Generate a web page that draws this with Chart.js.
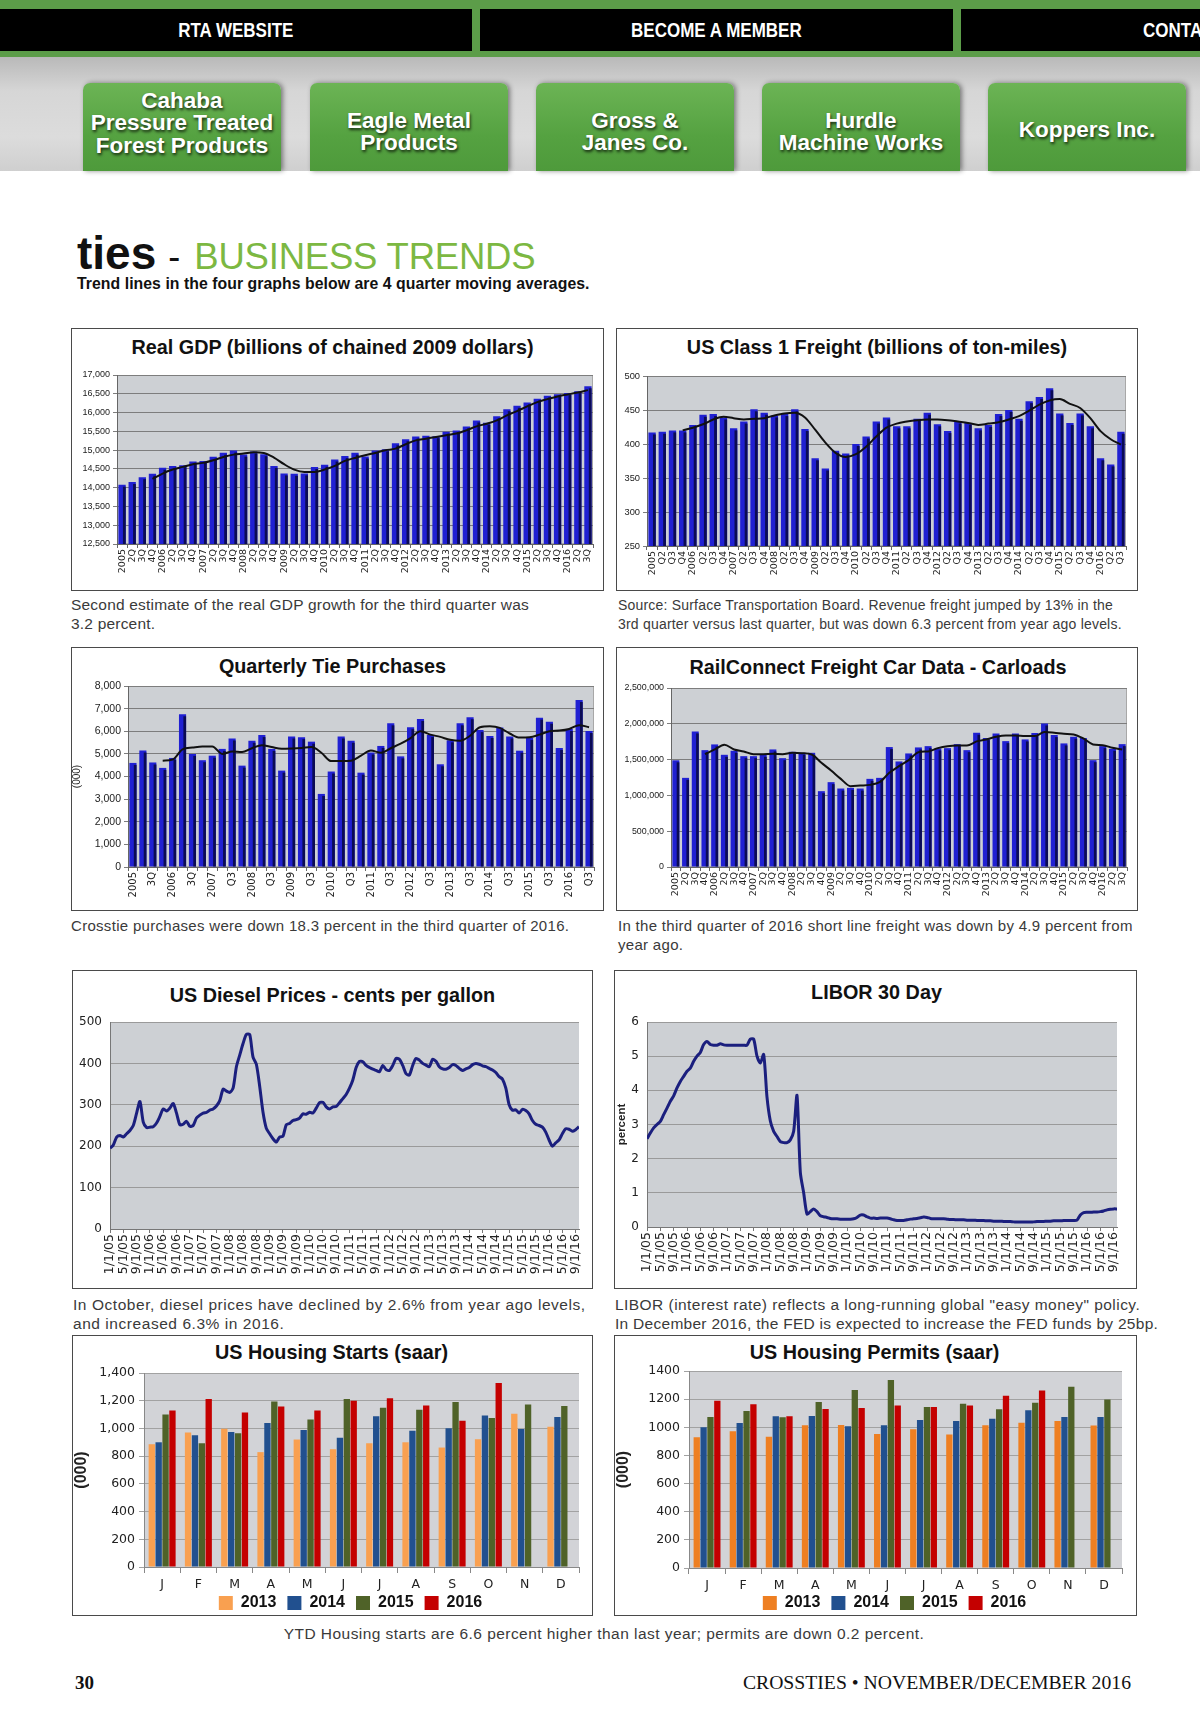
<!DOCTYPE html>
<html>
<head>
<meta charset="utf-8">
<title>ties - Business Trends</title>
<script src="https://cdn.jsdelivr.net/npm/chart.js@4.4.1/dist/chart.umd.min.js"></script>
<style>
  body { margin:0; width:1200px; height:1729px; overflow:hidden; position:relative; background:#fff; font-family:"Liberation Sans", Arial, sans-serif; color:#222; }
  .abs { position:absolute; }
  #greenbar { left:0; top:0; width:1200px; height:57px; background:#5c9d49; }
  .nav { top:9px; height:42px; background:#000; color:#fff; font-weight:bold; font-size:20px; line-height:42px; text-align:center; overflow:hidden; white-space:nowrap; }
  .nav span { display:inline-block; transform:scaleX(.85); }
  #band { left:0; top:57px; width:1200px; height:114px; background:linear-gradient(#b9b9b9, #d6d6d6 30%, #dcdcdc 70%, #cfcfcf); }
  .btn { top:83px; width:198px; height:88px; border-radius:7px 7px 0 0; background:linear-gradient(#6cb455, #55a241 60%, #4e9a3b); box-shadow:2px 0 5px rgba(0,0,0,.45); color:#fff; font-weight:bold; font-size:22.5px; line-height:22.5px; text-align:center; text-shadow:1px 2px 3px rgba(0,0,0,.75); display:flex; align-items:center; justify-content:center; box-sizing:border-box; }
  .box { border:1.5px solid #4a4a4a; box-sizing:border-box; }
  .ctitle { font-weight:bold; font-size:19.8px; line-height:22px; text-align:center; color:#111; white-space:nowrap; }
  .cap { font-size:15.5px; line-height:18.5px; color:#3a3a3a; white-space:nowrap; }
  canvas { position:absolute; }
</style>
</head>
<body>

<div id="greenbar" class="abs"></div>
<div class="abs nav" style="left:0;width:472px"><span>RTA WEBSITE</span></div>
<div class="abs nav" style="left:480px;width:473px"><span>BECOME A MEMBER</span></div>
<div class="abs nav" style="left:961px;width:239px;text-align:left"><span style="margin-left:182px;transform-origin:left">CONTACT US</span></div>
<div id="band" class="abs"></div>
<div class="abs btn" style="left:83px;padding-bottom:7px">Cahaba<br>Pressure Treated<br>Forest Products</div>
<div class="abs btn" style="left:310px;padding-top:10px">Eagle Metal<br>Products</div>
<div class="abs btn" style="left:536px;padding-top:10px">Gross &amp;<br>Janes Co.</div>
<div class="abs btn" style="left:762px;padding-top:10px">Hurdle<br>Machine Works</div>
<div class="abs btn" style="left:988px;padding-top:6px">Koppers Inc.</div>

<div class="abs" style="left:77px;top:228px;white-space:nowrap;line-height:50px">
  <span style="font-size:46px;font-weight:bold;color:#111">ties</span><span style="font-size:36px;color:#111;margin-left:12px">-</span><span style="font-size:36.5px;color:#7cb842;margin-left:14px;letter-spacing:-0.2px">BUSINESS TRENDS</span>
</div>
<div class="abs" style="left:77px;top:275px;font-size:15.8px;font-weight:bold;color:#111;white-space:nowrap;letter-spacing:0.05px">Trend lines in the four graphs below are 4 quarter moving averages.</div>

<div class="abs box" style="left:71px;top:328px;width:533px;height:263px"></div>
<div class="abs box" style="left:616px;top:328px;width:522px;height:263px"></div>
<div class="abs box" style="left:71px;top:647px;width:533px;height:264px"></div>
<div class="abs box" style="left:616px;top:647px;width:522px;height:264px"></div>
<div class="abs box" style="left:72px;top:970px;width:521px;height:319px"></div>
<div class="abs box" style="left:614px;top:970px;width:523px;height:319px"></div>
<div class="abs box" style="left:72px;top:1335px;width:521px;height:281px"></div>
<div class="abs box" style="left:614px;top:1335px;width:523px;height:281px"></div>

<div class="abs ctitle" style="left:71px;width:523px;top:336px">Real GDP (billions of chained 2009 dollars)</div>
<div class="abs ctitle" style="left:616px;width:522px;top:336px">US Class 1 Freight (billions of ton-miles)</div>
<div class="abs ctitle" style="left:71px;width:523px;top:655px">Quarterly Tie Purchases</div>
<div class="abs ctitle" style="left:616px;width:524px;top:656px">RailConnect Freight Car Data - Carloads</div>
<div class="abs ctitle" style="left:72px;width:521px;top:984px">US Diesel Prices - cents per gallon</div>
<div class="abs ctitle" style="left:614px;width:525px;top:981px">LIBOR 30 Day</div>
<div class="abs ctitle" style="left:72px;width:519px;top:1341px">US Housing Starts (saar)</div>
<div class="abs ctitle" style="left:614px;width:521px;top:1341px">US Housing Permits (saar)</div>

<div class="abs cap" style="left:71px;top:596px;letter-spacing:0.2px">Second estimate of the real GDP growth for the third quarter was<br>3.2 percent.</div>
<div class="abs cap" style="left:618px;top:596px;font-size:14px;letter-spacing:0.2px">Source: Surface Transportation Board. Revenue freight jumped by 13% in the<br>3rd quarter versus last quarter, but was down 6.3 percent from year ago levels.</div>
<div class="abs cap" style="left:71px;top:917px;font-size:15px;letter-spacing:0.3px">Crosstie purchases were down 18.3 percent in the third quarter of 2016.</div>
<div class="abs cap" style="left:618px;top:917px;font-size:15px;letter-spacing:0.3px">In the third quarter of 2016 short line freight was down by 4.9 percent from<br>year ago.</div>
<div class="abs cap" style="left:73px;top:1296px;letter-spacing:0.55px">In October, diesel prices have declined by 2.6% from year ago levels,<br>and increased 6.3% in 2016.</div>
<div class="abs cap" style="left:615px;top:1296px"><span style="letter-spacing:0.45px">LIBOR (interest rate) reflects a long-running global "easy money" policy.</span><br><span style="letter-spacing:0.28px">In December 2016, the FED is expected to increase the FED funds by 25bp.</span></div>
<div class="abs cap" style="left:0;width:1208px;text-align:center;top:1625px;letter-spacing:0.45px">YTD Housing starts are 6.6 percent higher than last year; permits are down 0.2 percent.</div>

<div class="abs" style="left:75px;top:1672px;font-family:'Liberation Serif',serif;font-weight:bold;font-size:19px;color:#111">30</div>
<div class="abs" style="right:69px;top:1671px;font-family:'Liberation Serif',serif;font-size:19.7px;color:#111;white-space:nowrap">CROSSTIES &bull; NOVEMBER/DECEMBER 2016</div>

<canvas id="gdp"></canvas>
<canvas id="freight"></canvas>
<canvas id="ties"></canvas>
<canvas id="carloads"></canvas>
<canvas id="diesel"></canvas>
<canvas id="libor"></canvas>
<canvas id="starts"></canvas>
<canvas id="permits"></canvas>

<script>
// --- Data ---
const quarterLabels = ['2005','2Q','3Q','4Q','2006','2Q','3Q','4Q','2007','2Q','3Q','4Q','2008','2Q','3Q','4Q',
  '2009','2Q','3Q','4Q','2010','2Q','3Q','4Q','2011','2Q','3Q','4Q','2012','2Q','3Q','4Q',
  '2013','2Q','3Q','4Q','2014','2Q','3Q','4Q','2015','2Q','3Q','4Q','2016','2Q','3Q'];
const freightLabels = ['2005','Q2','Q3','Q4','2006','Q2','Q3','Q4','2007','Q2','Q3','Q4','2008','Q2','Q3','Q4',
  '2009','Q2','Q3','Q4','2010','Q2','Q3','Q4','2011','Q2','Q3','Q4','2012','Q2','Q3','Q4',
  '2013','Q2','Q3','Q4','2014','Q2','Q3','Q4','2015','Q2','Q3','Q4','2016','Q2','Q3'];
const tieLabels = ['2005','','3Q','','2006','','3Q','','2007','','Q3','','2008','','Q3','',
  '2009','','Q3','','2010','','Q3','','2011','','Q3','','2012','','Q3','',
  '2013','','Q3','','2014','','Q3','','2015','','Q3','','2016','','Q3'];

const gdpValues = [14080,14150,14280,14370, 14530,14580,14600,14700, 14710,14820,14930,14990,
  14880,14960,14890,14580, 14380,14370,14380,14550, 14610,14750,14840,14930,
  14830,14990,15020,15180, 15290,15360,15380,15370, 15490,15520,15630,15790,
  15730,15900,16090,16180, 16270,16370,16450,16490, 16520,16570,16700];
const gdpTrend = [null,null,null,14234, 14376,14482,14553,14624, 14660,14730,14818,14880,
  14907,14942,14925,14800, 14624,14482,14420,14420, 14482,14580,14712,14792,
  14863,14925,14996,15040, 15155,15260,15305,15350, 15394,15440,15527,15633,
  15703,15792,15925,16040, 16163,16278,16358,16430, 16482,16535,16597];

const freightValues = [417,418,420,420, 428,443,444,439, 423,433,451,446, 442,444,451,422,
  379,364,390,386, 400,411,433,439, 426,426,437,446, 429,419,433,431,
  423,428,444,450, 437,463,469,482, 445,431,445,426, 379,370,418];
const freightTrend = [null,null,null,420, 424,429,436,440, 438,436,437,438, 442,445,446,439,
  421,402,387,381, 385,396,411,424, 430,433,435,436, 436,435,433,431,
  428,430,432,436, 441,449,458,464, 466,459,453,438, 419,407,399];

const tieValues = [4600,5150,4620,4380, 4820,6750,5000,4720, 4920,5220,5680,4480, 5580,5830,5220,4260,
  5770,5740,5540,3230, 4220,5770,5580,4170, 5060,5350,6350,4890, 6180,6540,5830,4540,
  5600,6350,6620,6050, 5790,6170,5770,5140, 5700,6600,6420,5260, 6100,7380,6010];
const tieTrend = [null,null,null,4700, 4750,5200,5280,5330, 5330,5000,5100,5080, 5250,5380,5300,5230,
  5240,5260,5300,5050, 4680,4680,4700,4920, 5150,5050,5250,5450, 5700,6000,5850,5750,
  5620,5580,5800,6180, 6220,6150,5900,5720, 5730,5850,6000,6030, 6100,6270,6180];

const carloadValues = [1490000,1245000,1894000,1632000, 1712000,1567000,1623000,1548000,
  1548000,1567000,1642000,1520000, 1609000,1595000,1595000,1059000,
  1185000,1096000,1105000,1096000, 1231000,1245000,1675000,1474000,
  1586000,1670000,1688000,1656000, 1660000,1716000,1632000,1875000,
  1800000,1866000,1758000,1866000, 1782000,1870000,2005000,1842000,
  1726000,1819000,1800000,1492000, 1688000,1651000,1716000];
const carloadTrend = [null,null,null,1576000, 1642000,1707000,1642000,1614000,
  1576000,1576000,1580000,1576000, 1595000,1590000,1572000,1455000,
  1348000,1231000,1129000,1138000, 1147000,1185000,1315000,1409000,
  1492000,1604000,1614000,1660000, 1688000,1698000,1698000,1754000,
  1782000,1819000,1838000,1838000, 1828000,1828000,1884000,1875000,
  1861000,1852000,1796000,1712000, 1702000,1665000,1642000];

// monthly points, Jan 2005 .. Oct 2016; ticks every 4th month
const monthTicks = ['1/1/05','5/1/05','9/1/05','1/1/06','5/1/06','9/1/06','1/1/07','5/1/07','9/1/07',
  '1/1/08','5/1/08','9/1/08','1/1/09','5/1/09','9/1/09','1/1/10','5/1/10','9/1/10',
  '1/1/11','5/1/11','9/1/11','1/1/12','5/1/12','9/1/12','1/1/13','5/1/13','9/1/13',
  '1/1/14','5/1/14','9/1/14','1/1/15','5/1/15','9/1/15','1/1/16','5/1/16','9/1/16'];
const dieselCents = [195,203,222,226,222,230,238,250,280,308,258,245,
  246,247,256,272,290,285,292,303,280,252,253,260,
  248,250,268,275,280,282,287,290,297,310,338,333,
  330,340,392,420,448,470,470,415,398,345,282,243,
  230,218,210,222,224,252,255,262,264,268,278,277,
  282,280,292,305,306,295,290,295,296,305,315,325,
  340,360,390,405,404,395,390,386,383,380,395,385,
  383,395,412,410,395,375,372,395,412,408,400,396,
  392,410,405,392,387,386,390,397,395,388,383,387,
  390,397,400,398,394,392,388,384,378,368,362,340,
  300,287,288,280,289,286,278,262,253,250,246,234,
  215,200,208,215,230,242,241,236,240,247];
const liborPercent = [2.58,2.75,2.90,3.00,3.09,3.29,3.48,3.68,3.84,4.07,4.26,4.41,
  4.56,4.65,4.85,5.00,5.11,5.34,5.43,5.34,5.32,5.32,5.36,5.33,
  5.32,5.32,5.32,5.32,5.32,5.32,5.32,5.50,5.50,5.00,4.80,5.05,
  3.80,3.10,2.80,2.65,2.50,2.47,2.47,2.55,2.80,3.85,1.60,1.00,
  0.38,0.45,0.53,0.45,0.33,0.30,0.28,0.25,0.24,0.24,0.23,0.23,
  0.23,0.23,0.24,0.28,0.35,0.35,0.30,0.26,0.26,0.25,0.26,0.26,
  0.26,0.24,0.21,0.19,0.19,0.19,0.21,0.23,0.24,0.25,0.27,0.29,
  0.28,0.25,0.24,0.24,0.24,0.24,0.23,0.22,0.22,0.21,0.21,0.21,
  0.20,0.20,0.20,0.19,0.19,0.19,0.18,0.18,0.17,0.17,0.17,0.16,
  0.16,0.16,0.15,0.15,0.15,0.15,0.15,0.15,0.15,0.16,0.16,0.16,
  0.17,0.17,0.18,0.18,0.18,0.19,0.19,0.19,0.19,0.20,0.35,0.42,
  0.43,0.43,0.44,0.44,0.45,0.47,0.50,0.52,0.53,0.53];

const monthLetters = ['J','F','M','A','M','J','J','A','S','O','N','D'];
const housingYears = ['2013','2014','2015','2016'];
const starts2013 = [886,970,998,829,920,850,893,900,862,922,1106,1013];
const starts2014 = [900,951,975,1039,989,932,1087,984,1001,1094,996,1082];
const starts2015 = [1101,893,965,1194,1065,1213,1149,1135,1190,1075,1173,1161];
const starts2016 = [1130,1213,1115,1159,1130,1199,1218,1166,1056,1328,null,null];
const permits2013 = [929,972,932,1014,1017,953,986,948,1014,1033,1045,1012];
const permits2014 = [1000,1031,1078,1080,1007,1014,1052,1045,1061,1121,1073,1073];
const permits2015 = [1073,1116,1071,1180,1265,1336,1144,1168,1128,1175,1288,1198];
const permits2016 = [1189,1163,1078,1130,1137,1154,1144,1154,1225,1262,null,null];

// --- Look ---
const plotGray = '#cdd0d4';
const barBlue = '#2020d2';
const barSide = '#0b0b55';
const startsColors = ['#f9a050','#21508f','#4f6228','#c40000'];
const permitsColors = ['#ee7f22','#21508f','#4f6228','#c40000'];
const verdanaLike = '"DejaVu Sans", Verdana, sans-serif';

Chart.defaults.animation = false;
Chart.defaults.font.family = '"Liberation Sans", Arial, sans-serif';
Chart.defaults.color = '#222';
Chart.defaults.plugins.legend.display = false;
Chart.defaults.plugins.tooltip.enabled = false;

// gray plot area behind everything
const plotBg = {
  id: 'plotBg',
  beforeDraw(chart, args, opts) {
    const { ctx, chartArea: a } = chart;
    ctx.save();
    ctx.fillStyle = opts.color || plotGray;
    ctx.fillRect(a.left, a.top, a.width, a.height);
    if (opts.border) {
      ctx.strokeStyle = opts.border;
      ctx.lineWidth = 1;
      ctx.strokeRect(a.left + 0.5, a.top + 0.5, a.width - 1, a.height - 1);
    }
    ctx.restore();
  }
};

// dark right side on each bar, like the 3D columns of the original
const barShade = {
  id: 'barShade',
  afterDatasetDraw(chart, args, opts) {
    if (!opts.color || args.meta.type !== 'bar') return;
    const ctx = chart.ctx;
    const bottom = chart.chartArea.bottom;
    ctx.save();
    ctx.fillStyle = opts.color;
    args.meta.data.forEach(bar => {
      const { x, y, width, base } = bar.getProps(['x', 'y', 'width', 'base'], true);
      const w = width * 0.38;
      const b = Math.min(base, bottom);
      ctx.fillRect(x + width / 2 - w, y + 2, w, b - y - 2);
    });
    ctx.restore();
  }
};

// tick labels may hang past their axis box (the x axes here are kept short)
const noLabelClip = {
  id: 'noLabelClip',
  afterUpdate(chart) {
    Object.values(chart.scales).forEach(s => { s._computeLabelArea = () => undefined; });
  }
};

// nudge the bottom legend sideways
const legendShift = {
  id: 'legendShift',
  afterLayout(chart, args, opts) {
    if (!opts.dx || !chart.legend) return;
    chart.legend.left += opts.dx;
    chart.legend.right += opts.dx;
  }
};
Chart.register(plotBg, barShade, noLabelClip, legendShift);

function place(id, r) {
  const c = document.getElementById(id);
  c.width = r.w; c.height = r.h;
  c.style.left = r.x + 'px'; c.style.top = r.y + 'px';
  return c;
}

function fit(r, p, legendH = 0) {
  return { top: p.t - r.y, yW: p.l - r.x, right: r.x + r.w - p.r, xH: r.y + r.h - p.b - legendH };
}

function quarterChart(id, r, p, labels, values, trend, y) {
  const f = fit(r, p);
  new Chart(place(id, r), {
    type: 'bar',
    data: {
      labels,
      datasets: [
        { type: 'line', data: trend, borderColor: '#111', borderWidth: 2, pointRadius: 0,
          tension: 0.4, cubicInterpolationMode: 'monotone', order: 0 },
        { type: 'bar', data: values, backgroundColor: barBlue, barPercentage: 0.72,
          categoryPercentage: 1, order: 1 }
      ]
    },
    options: {
      responsive: false,
      layout: { padding: { top: f.top, right: f.right, left: 0, bottom: 0 } },
      plugins: { plotBg: { border: '#a8a8a8' }, barShade: { color: barSide } },
      scales: {
        x: {
          grid: { drawOnChartArea: false, tickLength: 4, color: '#666' },
          border: { color: '#666' },
          ticks: { autoSkip: false, minRotation: 90, maxRotation: 90, padding: 1,
                   font: { family: verdanaLike, size: y.xFont || 9.5 }, color: '#222' },
          afterFit: s => { s.height = f.xH; }
        },
        y: {
          min: y.min, max: y.max,
          ticks: { stepSize: y.step, padding: 3, font: { size: y.font }, color: '#222' },
          grid: { color: '#7d7d7d', tickLength: 4 },
          border: { color: '#666' },
          title: y.title ? { display: true, text: y.title, font: { size: 10 }, padding: { top: 0, bottom: 0 } } : { display: false },
          afterFit: s => { s.width = f.yW; }
        }
      }
    }
  });
}

quarterChart('gdp', { x: 71, y: 328, w: 533, h: 263 }, { l: 117, t: 375, r: 593, b: 544 },
  quarterLabels, gdpValues, gdpTrend, { min: 12500, max: 17000, step: 500, font: 9 });
quarterChart('freight', { x: 616, y: 328, w: 522, h: 263 }, { l: 647, t: 376, r: 1126, b: 546 },
  freightLabels, freightValues, freightTrend, { min: 250, max: 500, step: 50, font: 9.3 });
quarterChart('ties', { x: 71, y: 647, w: 533, h: 264 }, { l: 128, t: 686, r: 594, b: 867 },
  tieLabels, tieValues, tieTrend, { min: 0, max: 8000, step: 1000, font: 10.5, xFont: 10, title: '(000)' });
quarterChart('carloads', { x: 616, y: 647, w: 522, h: 264 }, { l: 671, t: 688, r: 1127, b: 867 },
  quarterLabels, carloadValues, carloadTrend, { min: 0, max: 2500000, step: 500000, font: 8.9 });

function monthlyChart(id, r, p, values, y) {
  const f = fit(r, p);
  new Chart(place(id, r), {
    type: 'line',
    data: { datasets: [{ data: values.map((v, i) => ({ x: i, y: v })), borderColor: '#1b1f7e',
      borderWidth: 3, pointRadius: 0, tension: 0.25 }] },
    options: {
      responsive: false,
      layout: { padding: { top: f.top, right: f.right, left: 0, bottom: 0 } },
      plugins: { plotBg: {} },
      scales: {
        x: {
          type: 'linear', min: 0, max: values.length - 1,
          grid: { drawOnChartArea: false, tickLength: 4, color: '#777' },
          border: { color: '#777' },
          ticks: { stepSize: 4, includeBounds: false, autoSkip: false, minRotation: 90, maxRotation: 90,
                   padding: 1, font: { family: verdanaLike, size: 12.5 }, color: '#222',
                   callback: v => (v % 4 === 0 ? monthTicks[v / 4] : '') },
          afterFit: s => { s.height = f.xH; }
        },
        y: {
          min: y.min, max: y.max,
          ticks: { stepSize: y.step, padding: 8, font: { family: verdanaLike, size: 12 }, color: '#222' },
          grid: { color: '#9a9a9a', drawTicks: false },
          border: { color: '#777' },
          title: y.title ? { display: true, text: y.title, font: { size: 11.5, weight: 'bold' }, padding: { top: 1, bottom: 0 } } : { display: false },
          afterFit: s => { s.width = f.yW; }
        }
      }
    }
  });
}

monthlyChart('diesel', { x: 72, y: 970, w: 521, h: 319 }, { l: 110, t: 1022, r: 579, b: 1229 },
  dieselCents, { min: 0, max: 500, step: 100 });
monthlyChart('libor', { x: 614, y: 970, w: 523, h: 319 }, { l: 647, t: 1022, r: 1117, b: 1227 },
  liborPercent, { min: 0, max: 6, step: 1, title: 'percent' });

function housingChart(id, r, p, series, colors, commas) {
  const f = fit(r, p, 37);
  new Chart(place(id, r), {
    type: 'bar',
    data: {
      labels: monthLetters,
      datasets: series.map((s, i) => ({ label: housingYears[i], data: s, backgroundColor: colors[i],
        categoryPercentage: 0.76, barPercentage: 0.92 }))
    },
    options: {
      responsive: false,
      layout: { padding: { top: f.top, right: f.right, left: 0, bottom: 0 } },
      plugins: {
        plotBg: { color: '#d2d3d7' },
        legendShift: { dx: -11 },
        legend: { display: true, position: 'bottom', fullSize: false,
          labels: { boxWidth: 14, boxHeight: 14, padding: 11, color: '#111',
                    font: { size: 16, weight: 'bold' } } }
      },
      scales: {
        x: {
          grid: { drawOnChartArea: false, tickLength: 6, color: '#888' },
          border: { color: '#888' },
          ticks: { padding: 4, font: { family: verdanaLike, size: 12.5 }, color: '#222' },
          afterFit: s => { s.height = f.xH; }
        },
        y: {
          min: 0, max: 1400,
          ticks: { stepSize: 200, padding: 4, font: { family: verdanaLike, size: 12.5 }, color: '#222',
                   callback: v => (commas ? v.toLocaleString('en-US') : String(v)) },
          grid: { color: '#a2a2a2', tickLength: 5 },
          border: { color: '#888' },
          title: { display: true, text: '(000)', font: { size: 16, weight: 'bold' }, padding: { top: 0, bottom: 0 } },
          afterFit: s => { s.width = f.yW; }
        }
      }
    }
  });
}

housingChart('starts', { x: 72, y: 1335, w: 521, h: 286 }, { l: 144, t: 1373, r: 579, b: 1567 },
  [starts2013, starts2014, starts2015, starts2016], startsColors, true);
housingChart('permits', { x: 614, y: 1335, w: 523, h: 286 }, { l: 689, t: 1371, r: 1122, b: 1568 },
  [permits2013, permits2014, permits2015, permits2016], permitsColors, false);
</script>
</body>
</html>
